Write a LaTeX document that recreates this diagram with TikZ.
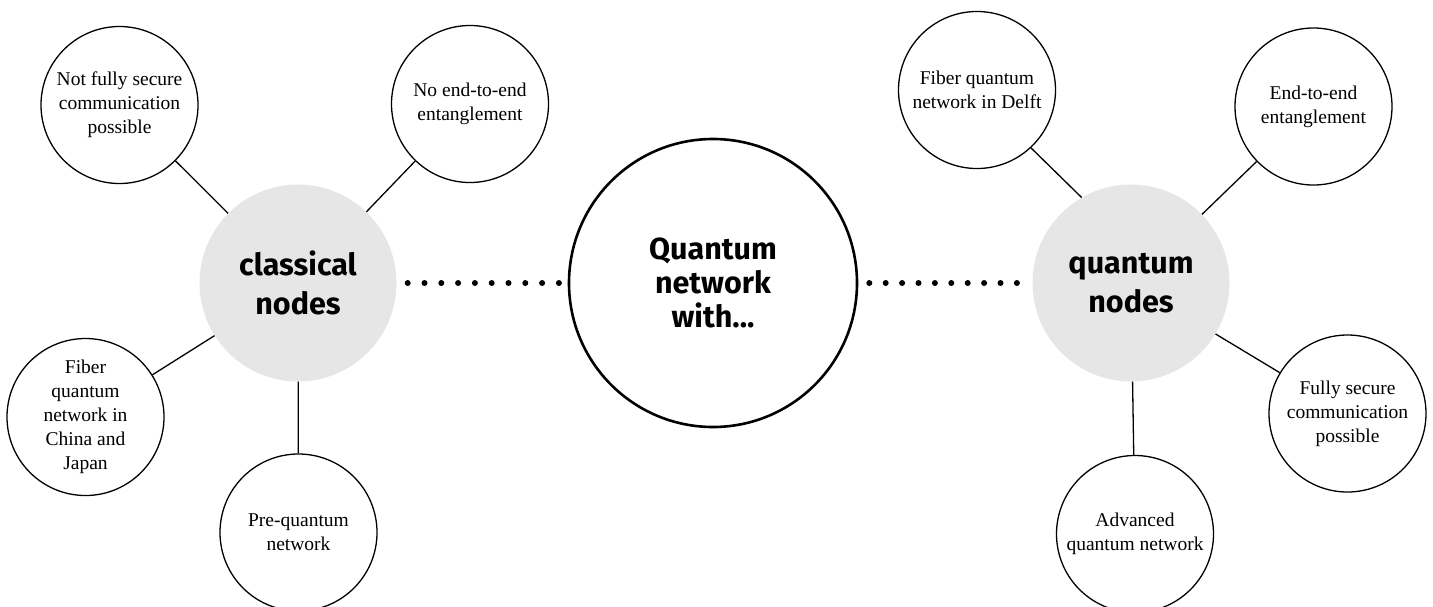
\documentclass[tikz,border=0pt]{standalone}
\usepackage{fontspec}
\setmainfont{Liberation Serif}
\newfontfamily\headsans{Fira Sans}
\definecolor{hubgray}{HTML}{E6E6E6}
\begin{document}
\begin{tikzpicture}[x=1pt,y=-1pt,
  leaf/.style={circle,draw=black,line width=1.3pt,fill=white,minimum size=157pt,inner sep=0pt,
    align=center,font=\fontsize{19.5}{24}\selectfont},
  hub/.style={circle,fill=hubgray,minimum size=197pt,inner sep=0pt,align=center,
    font=\headsans\bfseries\fontsize{30.5}{39}\selectfont},
  core/.style={circle,draw=black,line width=2.6pt,fill=white,minimum size=288pt,inner sep=0pt,align=center,
    font=\headsans\bfseries\fontsize{30.5}{34}\selectfont},
  link/.style={line width=1.3pt},
  dotlink/.style={line width=6pt,line cap=round,dash pattern=on 0pt off 16.8pt}]
\useasboundingbox (0,0) rectangle (1433,606);
\node[core] (c) at (713,283) {Quantum\\network\\with...};
\node[hub] (cl) at (298,283) {classical\\nodes};
\node[hub] (cq) at (1131,283) {quantum\\nodes};
\node[leaf] (a1) at (119.5,105) {Not fully secure\\communication\\possible};
\node[leaf] (a2) at (470,104) {No end-to-end\\entanglement};
\node[leaf] (a3) at (85.5,417) {Fiber\\quantum\\network in\\China and\\Japan};
\node[leaf] (a4) at (298.5,532.5) {Pre-quantum\\network};
\node[leaf] (b1) at (977,90) {Fiber quantum\\network in Delft};
\node[leaf] (b2) at (1313.5,106.5) {End-to-end\\entanglement};
\node[leaf] (b3) at (1347.5,413.5) {Fully secure\\communication\\possible};
\node[leaf] (b4) at (1135,534) {Advanced\\quantum network};
\draw[link] (a1) -- (cl);
\draw[link] (a2) -- (cl);
\draw[link] (a3) -- (cl);
\draw[link] (a4) -- (cl);
\draw[link] (b1.-47) -- (cq.120);
\draw[link] (b2) -- (cq);
\draw[link] (b3) -- (cq);
\draw[link] (b4) -- (cq);
\draw[dotlink,shorten <=11pt,shorten >=8.5pt] (cl.east) -- (c.west);
\draw[dotlink,dash pattern=on 0pt off 16.4pt,shorten <=11pt,shorten >=15pt] (c.east) -- (cq.west);
\end{tikzpicture}
\end{document}
